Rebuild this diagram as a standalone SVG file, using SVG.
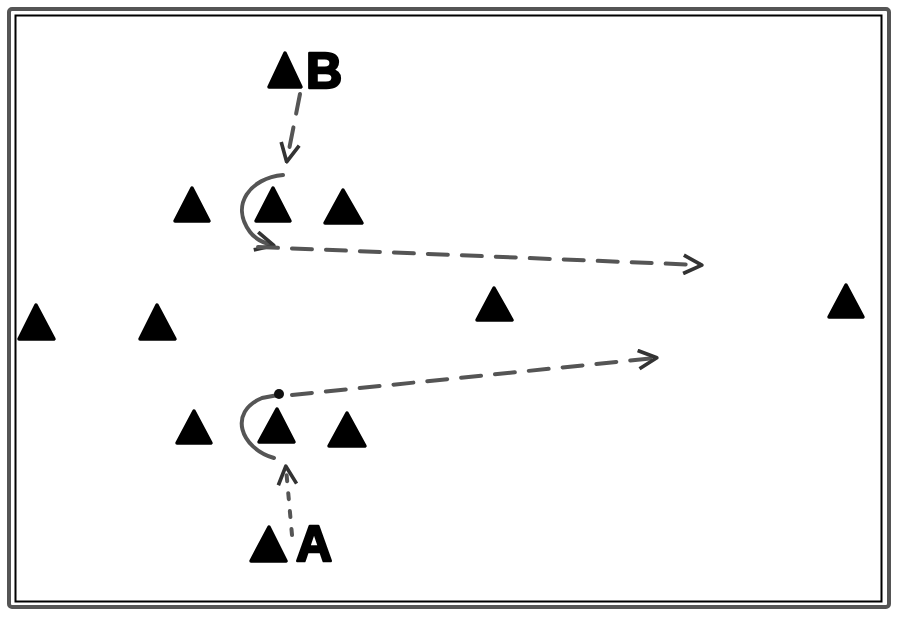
<svg xmlns="http://www.w3.org/2000/svg" width="900" height="620" viewBox="0 0 900 620">
<defs>
<style>
.cone{fill:#000;stroke:#000;stroke-width:3.5;stroke-linejoin:round}
.path{fill:none;stroke:#555;stroke-width:4;stroke-linecap:round}
.dash{stroke-dasharray:20 14}
.dot{stroke-dasharray:6 12}
.lbl{font-family:"Liberation Sans",Arial,sans-serif;font-weight:bold;font-size:50px;fill:#000;stroke:#000;stroke-width:2.5;stroke-linejoin:round}
</style>
<marker id="ah" viewBox="0 0 12 12" refX="10" refY="6" markerWidth="5.5" markerHeight="5.5" orient="auto" markerUnits="strokeWidth">
<path d="M1,1 L11,6 L1,11" fill="none" stroke="#333" stroke-width="2" stroke-linejoin="round"/>
</marker>
</defs>
<rect width="900" height="620" fill="#fff"/>
<rect x="9" y="9" width="880" height="598" fill="none" stroke="#555" stroke-width="4" rx="3"/>
<rect x="15.5" y="15.5" width="866" height="586" fill="none" stroke="#000" stroke-width="2"/>
<g id="connectors">
<path class="path dash" d="M300,94 L287,160" marker-end="url(#ah)"/>
<path class="path" d="M283,175 C250,178 230,205 250,232 C256,240 264,243 272,245" marker-end="url(#ah)"/>
<path class="path dash" d="M258,247 L700,265" marker-end="url(#ah)"/>
<path class="path dot" d="M292,535 L286,468" marker-end="url(#ah)"/>
<path class="path" d="M274,458 C240,448 228,412 262,398 L278,395"/>
<circle cx="279" cy="394" r="5" fill="#111"/>
<path class="path dash" d="M292,395 L655,358" marker-end="url(#ah)"/>
</g>
<g id="coneB"><polygon class="cone" points="285,53 301,87 269,87"/></g>
<g id="labelB"><text class="lbl" x="306" y="88">B</text></g>
<g id="cone1"><polygon class="cone" points="192,188 209,221 175,221"/></g>
<g id="cone2"><polygon class="cone" points="273,188 290,221 256,221"/></g>
<g id="cone3"><polygon class="cone" points="343,190 362,223 325,223"/></g>
<g id="cone4"><polygon class="cone" points="36,305 54,339 19,339"/></g>
<g id="cone5"><polygon class="cone" points="157,305 175,339 140,339"/></g>
<g id="cone6"><polygon class="cone" points="494,288 512,320 477,320"/></g>
<g id="cone7"><polygon class="cone" points="846,285 863,317 829,317"/></g>
<g id="cone8"><polygon class="cone" points="194,411 211,443 177,443"/></g>
<g id="cone9"><polygon class="cone" points="277,409 294,442 259,442"/></g>
<g id="cone10"><polygon class="cone" points="347,413 365,446 329,446"/></g>
<g id="coneA"><polygon class="cone" points="269,527 286,561 251,561"/></g>
<g id="labelA"><text class="lbl" x="296" y="561">A</text></g>
</svg>
